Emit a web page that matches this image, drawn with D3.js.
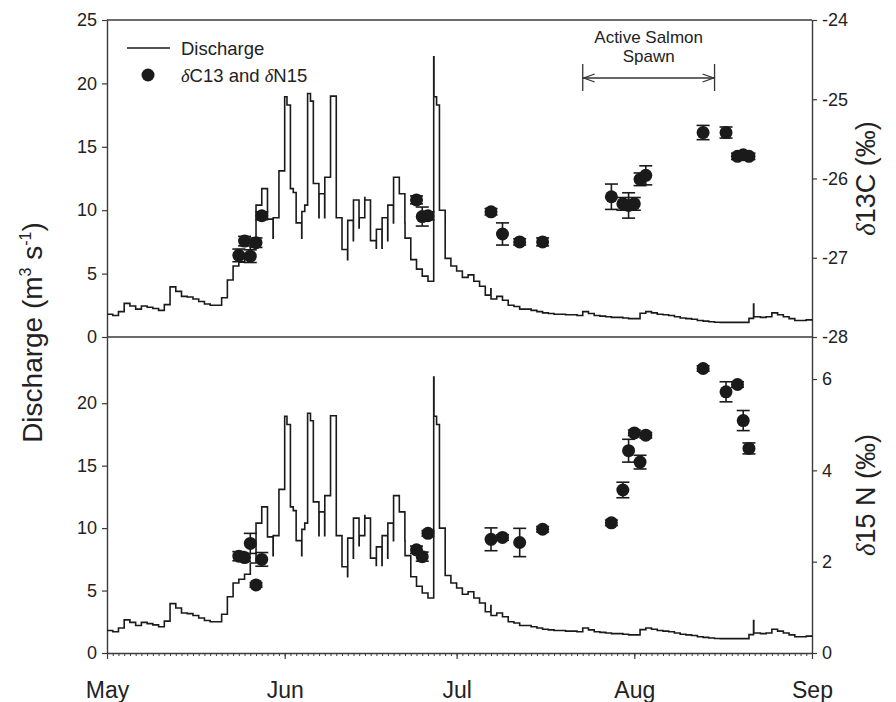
<!DOCTYPE html>
<html>
<head>
<meta charset="utf-8">
<script src="https://cdn.jsdelivr.net/npm/d3@7"></script>
<style>
  body { margin: 0; background: #fff; }
  svg { display: block; font-family: "Liberation Sans", Arial, sans-serif; }
</style>
</head>
<body>
<svg id="chart" width="896" height="702"></svg>
<script>
// Daily discharge (m3 s-1), day offsets counted from 1 May; fractional
// offsets mark short-lived peaks and dips inside a day.
const flowDay = [
  0, 1, 2, 3, 4, 5, 6, 7, 8, 9, 10, 11, 12, 13, 14, 15, 16, 17, 18, 19,
  20, 21, 22, 23, 24, 25, 26, 27, 28, 28.97, 29, 30, 31, 31.4, 32, 32.5,
  33, 33.97, 34, 34.5, 35, 35.5, 36, 36.97, 37, 37.97, 38, 39, 40, 41,
  41.97, 42, 42.97, 43, 43.97, 44, 44.97, 45, 45.97, 46, 46.97, 47, 47.97,
  48, 48.97, 49, 49.97, 50, 51, 51.97, 52, 53, 54, 55, 56, 57, 57.05, 57.5,
  58, 59, 60, 61, 62, 63, 64, 65, 66, 66.97, 67, 68, 69, 70, 71, 72, 73,
  74, 75, 76, 77, 78, 79, 80, 81, 82, 83, 84, 85, 86, 87, 88, 89, 90, 91,
  92, 93, 94, 95, 96, 97, 98, 99, 100, 101, 102, 103, 104, 105, 106, 107,
  108, 109, 110, 111, 112, 112.8, 112.85, 113, 114, 115, 116, 117, 118,
  119, 120, 121, 122, 123
];
const flowValue = [
  1.8, 1.7, 2.0, 2.65, 2.45, 2.2, 2.45, 2.35, 2.25, 2.1, 2.55, 3.95, 3.6, 3.2, 3.15, 3.0, 2.8, 2.6, 2.5, 2.5,
  3.1, 4.5, 5.6, 5.9, 6.3, 7.2, 10.4, 11.7, 9.3, 7.8, 9.4, 13.1, 18.95, 18.3, 11.7, 11.4,
  9.0, 7.8, 9.9, 10.4, 19.2, 18.6, 12.1, 9.4, 11.3, 9.4, 12.6, 19.0, 9.4, 6.9,
  6.1, 9.2, 7.6, 10.8, 8.6, 9.4, 11.0, 10.8, 7.6, 7.6, 7.0, 8.5, 7.0,
  9.4, 7.6, 10.4, 9.0, 12.6, 11.3, 9.0, 7.8, 6.1, 5.35, 4.8, 4.4, 22.1, 18.95, 18.3,
  10.0, 6.2, 5.6, 5.2, 4.7, 4.9, 4.4, 4.0, 3.3, 3.8, 3.0, 3.2, 2.9, 2.5, 2.4, 2.2, 2.2,
  2.1, 2.0, 1.9, 1.85, 1.8, 1.8, 1.75, 1.75, 1.7, 2.0, 1.85, 1.7, 1.65, 1.6, 1.55, 1.55, 1.5, 1.45,
  1.45, 1.87, 2.0, 1.9, 1.8, 1.75, 1.7, 1.6, 1.5, 1.45, 1.4, 1.3, 1.25, 1.2, 1.16, 1.15,
  1.15, 1.15, 1.15, 1.15, 1.47, 2.6, 1.6, 1.6, 1.55, 1.6, 1.9, 1.75, 1.6,
  1.45, 1.3, 1.3, 1.35, 1.4
];

// Isotope sampling days (offset from 1 May) with means and error bars
const sampleDay = [23, 24, 25, 26, 27, 54, 55, 56, 67, 69, 72, 76, 88, 90, 91, 92, 93, 94, 104, 108, 110, 111, 112];
const d13C = [-26.97, -26.79, -26.98, -26.81, -26.47, -26.27, -26.48, -26.47, -26.42, -26.70, -26.80, -26.80,
              -26.23, -26.32, -26.34, -26.32, -26.01, -25.96, -25.42, -25.42, -25.72, -25.70, -25.72];
const d13CErr = [0.08, 0.06, 0.08, 0.06, 0.05, 0.05, 0.12, 0.05, 0.04, 0.14, 0.04, 0.05,
                 0.16, 0.08, 0.16, 0.08, 0.08, 0.12, 0.09, 0.07, 0.04, 0.04, 0.04];
const d15N = [2.12, 2.09, 2.40, 1.49, 2.05, 2.26, 2.11, 2.62, 2.49, 2.53, 2.42, 2.71,
              2.85, 3.57, 4.43, 4.82, 4.18, 4.77, 6.23, 5.72, 5.88, 5.09, 4.48];
const d15NErr = [0.10, 0.08, 0.22, 0.05, 0.15, 0.08, 0.10, 0.06, 0.25, 0.06, 0.31, 0.06,
                 0.06, 0.17, 0.25, 0.06, 0.15, 0.06, 0.06, 0.22, 0.06, 0.22, 0.12];

// Axis ticks
const flowTicksTop = [0, 5, 10, 15, 20, 25];
const flowTicksBottom = [0, 5, 10, 15, 20];
const carbonTicks = [-28, -27, -26, -25, -24];
const nitrogenTicks = [0, 2, 4, 6];
const monthLabels = ["May", "Jun", "Jul", "Aug", "Sep"];

// Salmon spawning window (day offsets from 1 May)
const spawnStartDay = 83;
const spawnEndDay = 106;

// ---------------------------------------------------------------------
const svg = d3.select("#chart");
const L = 107, R = 812;
const topY0 = 20, topY1 = 337, botY0 = 337, botY1 = 653;
const ink = "#1a1a1a", axisInk = "#3a3a3a";

const start = new Date(Date.UTC(2009, 4, 1));
const toDate = d => new Date(start.getTime() + d * 864e5);
const x = d3.scaleUtc().domain([start, toDate(123)]).range([L, R]);

const yTop = d3.scaleLinear().domain([0, 25]).range([topY1, topY0]);
const yBot = d3.scaleLinear().domain([0, 25.3]).range([botY1, botY0]);
const yC = d3.scaleLinear().domain([-28, -24]).range([topY1, topY0]);
const yN = d3.scaleLinear().domain([0, 6.92]).range([botY1, botY0]);

const flow = flowDay.map((d, i) => ({ date: toDate(d), v: flowValue[i] }));
const samples = sampleDay.map((d, i) => ({
  date: toDate(d), c: d13C[i], ce: d13CErr[i], n: d15N[i], ne: d15NErr[i]
}));

const intFmt = d => String(d);

function styleAxis(g, size) {
  g.selectAll(".domain").attr("stroke", axisInk).attr("stroke-width", 1.4);
  g.selectAll(".tick line").attr("stroke", axisInk).attr("stroke-width", 1.2);
  g.selectAll(".tick text").attr("fill", "#222").style("font-size", size + "px")
    .style("font-family", "'Liberation Sans', Arial, sans-serif");
}

// Panel frames
svg.append("line").attr("x1", L).attr("x2", R).attr("y1", topY0).attr("y2", topY0)
  .attr("stroke", axisInk).attr("stroke-width", 1.4);
svg.append("line").attr("x1", L).attr("x2", R).attr("y1", topY1).attr("y2", topY1)
  .attr("stroke", axisInk).attr("stroke-width", 1.6);

// Left axes (discharge)
svg.append("g").attr("transform", `translate(${L},0)`)
  .call(d3.axisLeft(yTop).tickValues(flowTicksTop).tickSize(5).tickPadding(5).tickSizeOuter(0).tickFormat(intFmt))
  .call(g => styleAxis(g, 18));
svg.append("g").attr("transform", `translate(${L},0)`)
  .call(d3.axisLeft(yBot).tickValues(flowTicksBottom).tickSize(5).tickPadding(5).tickSizeOuter(0).tickFormat(intFmt))
  .call(g => styleAxis(g, 18));

// Right axes (isotopes)
svg.append("g").attr("transform", `translate(${R},0)`)
  .call(d3.axisRight(yC).tickValues(carbonTicks).tickSize(5).tickPadding(5).tickSizeOuter(0).tickFormat(intFmt))
  .call(g => styleAxis(g, 18));
svg.append("g").attr("transform", `translate(${R},0)`)
  .call(d3.axisRight(yN).tickValues(nitrogenTicks).tickSize(5).tickPadding(5).tickSizeOuter(0).tickFormat(intFmt))
  .call(g => styleAxis(g, 18));

// Bottom date axis: daily minor ticks, monthly major ticks with labels
svg.append("g").attr("transform", `translate(0,${botY1})`)
  .call(d3.axisBottom(x).ticks(d3.utcDay.every(1)).tickSize(3).tickFormat("").tickSizeOuter(0))
  .call(g => styleAxis(g, 10))
  .call(g => g.selectAll(".tick line").attr("stroke-width", 1));
svg.append("g").attr("transform", `translate(0,${botY1})`)
  .call(d3.axisBottom(x).ticks(d3.utcMonth.every(1)).tickSize(6).tickPadding(23)
    .tickFormat((d, i) => monthLabels[i]).tickSizeOuter(0))
  .call(g => styleAxis(g, 23))
  .call(g => g.select(".domain").remove());

// Discharge step lines
const flowLineTop = d3.line().x(d => x(d.date)).y(d => yTop(d.v)).curve(d3.curveStepAfter);
const flowLineBot = d3.line().x(d => x(d.date)).y(d => yBot(d.v)).curve(d3.curveStepAfter);
svg.append("path").datum(flow).attr("d", flowLineTop)
  .attr("fill", "none").attr("stroke", ink).attr("stroke-width", 1.6).attr("stroke-linejoin", "miter");
svg.append("path").datum(flow).attr("d", flowLineBot)
  .attr("fill", "none").attr("stroke", ink).attr("stroke-width", 1.6).attr("stroke-linejoin", "miter");

// Isotope points with error bars
function drawPoints(yScale, key, errKey) {
  const g = svg.append("g");
  const cap = 6.5;
  samples.forEach(s => {
    const cx = x(s.date);
    const lo = yScale(s[key] - s[errKey]), hi = yScale(s[key] + s[errKey]);
    g.append("line").attr("x1", cx).attr("x2", cx).attr("y1", lo).attr("y2", hi)
      .attr("stroke", ink).attr("stroke-width", 1.6);
    [lo, hi].forEach(yy => g.append("line")
      .attr("x1", cx - cap).attr("x2", cx + cap).attr("y1", yy).attr("y2", yy)
      .attr("stroke", ink).attr("stroke-width", 1.6));
  });
  g.selectAll("circle").data(samples).join("circle")
    .attr("cx", d => x(d.date)).attr("cy", d => yScale(d[key])).attr("r", 6.5)
    .attr("fill", ink);
}
drawPoints(yC, "c", "ce");
drawPoints(yN, "n", "ne");

// Axis titles
const title = svg.append("text")
  .attr("transform", `translate(42,${(topY0 + botY1) / 2 - 4}) rotate(-90)`)
  .attr("text-anchor", "middle").attr("fill", "#222").style("font-size", "28px");
title.append("tspan").text("Discharge (m");
title.append("tspan").attr("dy", -11).style("font-size", "16px").text("3");
title.append("tspan").attr("dy", 11).text(" s");
title.append("tspan").attr("dy", -11).style("font-size", "16px").text("-1");
title.append("tspan").attr("dy", 11).text(")");

function isoTitle(cy, parts) {
  const t = svg.append("text")
    .attr("transform", `translate(875,${cy}) rotate(-90)`)
    .attr("text-anchor", "middle").attr("fill", "#222").style("font-size", "27px");
  t.append("tspan").style("font-family", "'Liberation Serif', 'DejaVu Serif', serif")
    .style("font-style", "italic").text("δ");
  t.append("tspan").text(parts);
}
isoTitle((topY0 + topY1) / 2, "13C (‰)");
isoTitle((botY0 + botY1) / 2, "15 N (‰)");

// Legend
const lg = svg.append("g").style("font-size", "18.5px").attr("fill", "#222");
lg.append("line").attr("x1", 127).attr("x2", 170).attr("y1", 48).attr("y2", 48)
  .attr("stroke", ink).attr("stroke-width", 1.6);
lg.append("text").attr("x", 181).attr("y", 55).text("Discharge");
lg.append("circle").attr("cx", 148).attr("cy", 75).attr("r", 6.5).attr("fill", ink);
const lt = lg.append("text").attr("x", 181).attr("y", 82);
const delta = t => t.append("tspan").style("font-family", "'Liberation Serif', 'DejaVu Serif', serif")
  .style("font-style", "italic").text("δ");
delta(lt); lt.append("tspan").text("C13 and ");
delta(lt); lt.append("tspan").text("N15");

// Spawning window annotation
const xs = x(toDate(spawnStartDay)), xe = x(toDate(spawnEndDay));
const ann = svg.append("g").attr("stroke", "#333").attr("stroke-width", 1.3).attr("fill", "none");
ann.append("line").attr("x1", xs).attr("x2", xs).attr("y1", 64).attr("y2", 91);
ann.append("line").attr("x1", xe).attr("x2", xe).attr("y1", 64).attr("y2", 91);
ann.append("line").attr("x1", xs).attr("x2", xe).attr("y1", 78).attr("y2", 78);
ann.append("path").attr("d", `M${xs + 12},74 L${xs + 1},78 L${xs + 12},82`);
ann.append("path").attr("d", `M${xe - 12},74 L${xe - 1},78 L${xe - 12},82`);
const mid = (xs + xe) / 2;
svg.append("text").attr("x", mid).attr("y", 43).attr("text-anchor", "middle")
  .attr("fill", "#222").style("font-size", "17px").text("Active Salmon");
svg.append("text").attr("x", mid).attr("y", 62).attr("text-anchor", "middle")
  .attr("fill", "#222").style("font-size", "17px").text("Spawn");
</script>
</body>
</html>
